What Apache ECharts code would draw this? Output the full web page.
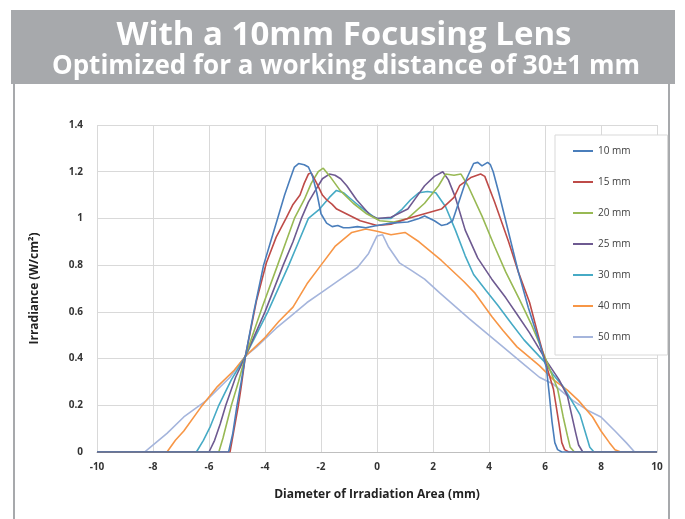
<!DOCTYPE html>
<html>
<head>
<meta charset="utf-8">
<script src="https://cdn.jsdelivr.net/npm/echarts@6/dist/echarts.min.js"></script>
<style>
html,body{margin:0;padding:0;background:#fff;}
#chart{width:685px;height:519px;}
</style>
</head>
<body>
<div id="chart"></div>
<script>
// ---- data (x in mm, y in W/cm²) ----
const seriesNames = ['10 mm','15 mm','20 mm','25 mm','30 mm','40 mm','50 mm'];
const xTicks = [-10,-8,-6,-4,-2,0,2,4,6,8,10];
const yTicks = [0,0.2,0.4,0.6,0.8,1,1.2,1.4];

const d10 = [[-10,0],[-5.3,0],[-5.15,0.08],[-5.0,0.2],[-4.85,0.3],[-4.7,0.41],[-4.4,0.6],[-4.05,0.8],[-3.8,0.9],[-3.55,1.0],[-3.3,1.1],[-3.1,1.17],[-2.95,1.22],[-2.8,1.235],[-2.6,1.23],[-2.45,1.22],[-2.3,1.18],[-2.15,1.11],[-2.0,1.02],[-1.8,0.98],[-1.6,0.965],[-1.4,0.97],[-1.2,0.96],[-1.0,0.96],[-0.7,0.965],[-0.4,0.96],[0,0.97],[0.5,0.98],[1.1,0.985],[1.5,1.0],[1.7,1.01],[2.05,0.99],[2.3,0.97],[2.5,0.975],[2.7,0.99],[2.95,1.08],[3.2,1.17],[3.45,1.235],[3.6,1.24],[3.75,1.225],[3.95,1.24],[4.05,1.23],[4.15,1.2],[4.35,1.11],[4.7,0.94],[5.05,0.77],[5.4,0.62],[5.8,0.47],[6.05,0.36],[6.15,0.25],[6.25,0.13],[6.35,0.04],[6.45,0.01],[6.6,0],[10,0]];
const d15 = [[-10,0],[-5.25,0],[-5.1,0.1],[-4.95,0.2],[-4.85,0.28],[-4.7,0.41],[-4.3,0.65],[-3.95,0.81],[-3.6,0.92],[-3.25,1.0],[-3.0,1.06],[-2.75,1.1],[-2.6,1.15],[-2.45,1.19],[-2.35,1.195],[-2.15,1.15],[-1.95,1.1],[-1.8,1.08],[-1.6,1.06],[-1.44,1.04],[-1.1,1.02],[-0.6,0.99],[0,0.97],[0.5,0.975],[1.1,1.0],[1.7,1.02],[2.3,1.04],[2.75,1.09],[2.95,1.14],[3.35,1.175],[3.7,1.19],[3.85,1.18],[4.2,1.07],[4.7,0.9],[5.05,0.77],[5.45,0.64],[5.8,0.48],[6.05,0.37],[6.3,0.27],[6.5,0.12],[6.6,0.04],[6.7,0.01],[6.85,0],[10,0]];
const d20 = [[-10,0],[-5.65,0],[-5.5,0.06],[-5.2,0.2],[-4.95,0.3],[-4.7,0.41],[-4.1,0.62],[-3.55,0.8],[-3.25,0.9],[-2.95,1.0],[-2.6,1.08],[-2.35,1.15],[-2.1,1.2],[-1.92,1.215],[-1.68,1.18],[-1.32,1.12],[-0.85,1.065],[-0.37,1.02],[0.1,0.99],[0.6,0.985],[1.1,1.0],[1.7,1.065],[2.2,1.14],[2.45,1.19],[2.75,1.185],[3.0,1.19],[3.25,1.14],[3.75,1.01],[4.2,0.88],[4.6,0.77],[5.1,0.65],[5.5,0.55],[5.85,0.45],[6.15,0.36],[6.45,0.27],[6.65,0.15],[6.8,0.07],[6.9,0.02],[7.05,0],[10,0]];
const d25 = [[-10,0],[-6.0,0],[-5.8,0.05],[-5.6,0.12],[-5.4,0.2],[-5.05,0.32],[-4.7,0.41],[-4.0,0.6],[-3.35,0.8],[-3.0,0.9],[-2.7,1.0],[-2.45,1.07],[-2.2,1.12],[-1.95,1.17],[-1.7,1.19],[-1.5,1.185],[-1.3,1.17],[-1.08,1.14],[-0.73,1.08],[-0.25,1.015],[0,1.0],[0.5,1.005],[1.1,1.04],[1.4,1.09],[1.7,1.14],[2.05,1.18],[2.35,1.2],[2.55,1.165],[2.8,1.09],[3.15,0.95],[3.6,0.83],[4.1,0.74],[4.6,0.66],[5.0,0.59],[5.45,0.51],[6.05,0.39],[6.5,0.31],[6.8,0.24],[6.95,0.16],[7.1,0.08],[7.2,0.03],[7.35,0],[10,0]];
const d30 = [[-10,0],[-6.45,0],[-6.2,0.05],[-5.95,0.11],[-5.65,0.2],[-5.2,0.31],[-4.7,0.41],[-3.9,0.6],[-3.15,0.8],[-2.8,0.9],[-2.45,1.0],[-2.05,1.04],[-1.7,1.09],[-1.45,1.12],[-1.2,1.11],[-0.9,1.08],[-0.6,1.05],[-0.15,1.01],[0,1.0],[0.5,1.0],[0.9,1.04],[1.2,1.08],[1.5,1.11],[1.8,1.115],[2.1,1.11],[2.45,1.05],[2.8,0.95],[3.15,0.84],[3.45,0.76],[3.9,0.69],[4.3,0.63],[4.8,0.55],[5.25,0.48],[5.95,0.39],[6.3,0.33],[6.65,0.28],[6.95,0.22],[7.25,0.16],[7.45,0.08],[7.6,0.02],[7.75,0],[10,0]];
const d40 = [[-10,0],[-7.5,0],[-7.2,0.05],[-6.9,0.09],[-6.3,0.19],[-5.7,0.28],[-5.1,0.35],[-4.7,0.41],[-4.0,0.49],[-3.5,0.56],[-3.0,0.62],[-2.5,0.72],[-2.0,0.8],[-1.5,0.88],[-0.9,0.94],[-0.4,0.955],[0,0.945],[0.5,0.93],[1.0,0.94],[1.5,0.9],[2.3,0.82],[3.1,0.73],[3.5,0.68],[4.1,0.58],[4.5,0.52],[5.0,0.45],[5.8,0.37],[6.3,0.31],[6.8,0.265],[7.2,0.22],[7.7,0.15],[8.0,0.09],[8.3,0.04],[8.5,0.01],[8.7,0],[10,0]];
const d50 = [[-10,0],[-8.3,0],[-8.1,0.02],[-7.5,0.08],[-6.9,0.15],[-6.1,0.22],[-5.25,0.32],[-4.7,0.41],[-4.3,0.45],[-3.6,0.53],[-3.1,0.58],[-2.5,0.64],[-1.9,0.69],[-1.3,0.74],[-0.7,0.79],[-0.3,0.85],[0,0.925],[0.2,0.93],[0.4,0.88],[0.8,0.81],[1.2,0.78],[1.7,0.74],[2.25,0.68],[3.3,0.57],[4.5,0.45],[5.3,0.37],[5.8,0.32],[6.3,0.29],[7.0,0.22],[7.5,0.18],[8.0,0.15],[8.5,0.09],[8.9,0.04],[9.2,0],[10,0]];

const seriesData = [d10,d15,d20,d25,d30,d40,d50];
const colors = ['#4a7ebb','#be4b48','#98b954','#6e5a91','#46aac5','#f79646','#a5b5dc'];

const chart = echarts.init(document.getElementById('chart'), null, {renderer:'canvas'});
const tickFont = {color:'#333', fontSize:10, fontFamily:'Open Sans', fontWeight:'bold'};

chart.setOption({
  animation:false,
  backgroundColor:'#fff',
  color: colors,
  graphic:[
    {type:'rect', shape:{x:11,y:10,width:664,height:74}, style:{fill:'#a7a9ac'}, z:0},
    {type:'rect', shape:{x:13,y:84,width:2,height:435}, style:{fill:'#a7a9ac'}},
    {type:'rect', shape:{x:668,y:84,width:2,height:435}, style:{fill:'#a7a9ac'}},
    {type:'text', x:344, y:36, style:{text:'With a 10mm Focusing Lens', fill:'#fff', font:'bold 33px "Open Sans"', textAlign:'center', textVerticalAlign:'middle'}},
    {type:'text', x:346, y:67, style:{text:'Optimized for a working distance of 30±1 mm', fill:'#fff', font:'bold 26px "Open Sans"', textAlign:'center', textVerticalAlign:'middle'}}
  ],
  grid:{left:97, right:28, top:125, bottom:67},
  legend:{
    data: seriesNames,
    orient:'vertical',
    left:555, top:135,
    padding:[10,37,12,18],
    itemGap:19,
    itemWidth:20, itemHeight:2,
    icon:'rect',
    borderColor:'#d9d9d9', borderWidth:1,
    backgroundColor:'#fff',
    textStyle:{color:'#404040', fontSize:10, fontFamily:'Open Sans', lineHeight:12}
  },
  xAxis:{
    type:'value', min:-10, max:10, interval:2,
    name:'Diameter of Irradiation Area (mm)', nameLocation:'middle', nameGap:37,
    nameTextStyle:{color:'#222', fontSize:12, fontWeight:'bold', fontFamily:'Open Sans'},
    axisLine:{lineStyle:{color:'#bfbfbf'}},
    axisTick:{show:false},
    axisLabel:Object.assign({margin:10}, tickFont),
    splitLine:{show:true, lineStyle:{color:'#d9d9d9'}}
  },
  yAxis:{
    type:'value', min:0, max:1.4, interval:0.2,
    name:'Irradiance (W/cm²)', nameLocation:'middle', nameGap:56,
    nameTextStyle:{color:'#222', fontSize:12, fontWeight:'bold', fontFamily:'Open Sans'},
    axisLine:{show:true, lineStyle:{color:'#d9d9d9'}},
    axisTick:{show:false},
    axisLabel:Object.assign({margin:14}, tickFont),
    splitLine:{show:true, lineStyle:{color:'#d9d9d9'}}
  },
  series: seriesNames.map((n,i)=>({
    name:n, type:'line', data:seriesData[i], showSymbol:false, symbol:'none',
    lineStyle:{width:1.6, color:colors[i]}, itemStyle:{color:colors[i]}, z: 10-i
  }))
});
</script>
</body>
</html>
